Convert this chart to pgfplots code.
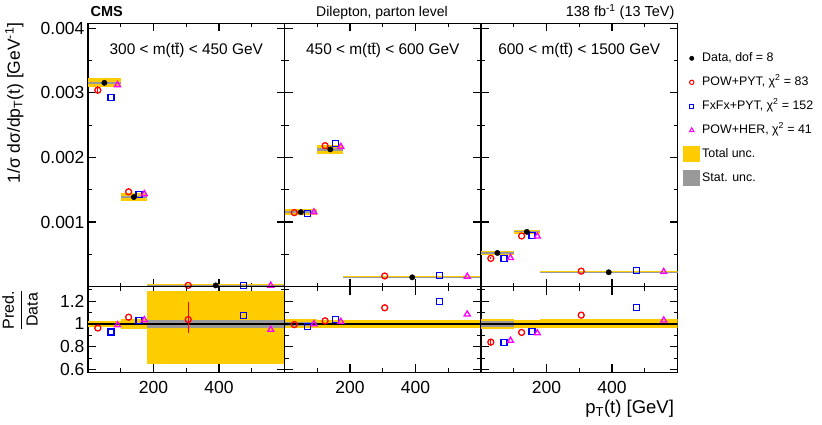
\documentclass[border=0pt]{standalone}
\usepackage{pgfplots}
\pgfplotsset{compat=1.18}
\usepackage{fontspec}
\setmainfont{Liberation Sans}
\definecolor{unctot}{RGB}{255,204,0}
\definecolor{uncstat}{RGB}{153,153,153}
\definecolor{pred1}{RGB}{255,0,0}
\definecolor{pred2}{RGB}{0,0,255}
\definecolor{pred3}{RGB}{255,0,255}
% band: x0 x1 ylo yhi colour
\newcommand{\band}[5]{\addplot[draw=none, fill=#5, forget plot] coordinates {(#1,#3) (#2,#3) (#2,#4) (#1,#4)};}
\tikzset{ptitle/.style={font=\fontsize{15.4}{18}\selectfont, anchor=base}}
\pgfplotsset{
  boxleg/.style={legend image code/.code={\fill[##1] (0pt,-8pt) rectangle (17pt,8pt);}},
  panel/.style={scale only axis, width=196.5pt, xmin=0, xmax=600,
    axis line style={line width=1.5pt},
    tick style={line width=1.1pt, black},
    major tick length=8pt, minor tick length=4pt,
    tick align=inside, xtick pos=both, ytick pos=both,
    xtick={200,400}, minor xtick={100,300,500},
    scaled y ticks=false, scaled x ticks=false,
    /pgf/number format/assume math mode=true,
    tick label style={font=\fontsize{17.5}{20}\selectfont},
    xticklabel style={anchor=base, yshift=-21pt}},
  mainp/.style={panel, height=263.4pt, ymin=0, ymax=0.004074,
    ytick={0.001,0.002,0.003,0.004}, minor ytick={0.0005,0.0015,0.0025,0.0035}},
  ratiop/.style={panel, height=85.6pt, ymin=0.575, ymax=1.327,
    ytick={0.6,0.8,1,1.2}, minor ytick={0.7,0.9,1.1,1.3}},
  dat/.style={only marks, mark=*, black, mark size=2.7pt},
  p1/.style={only marks, mark=o, pred1, mark size=3pt, line width=1.3pt,
    error bars/y dir=both, error bars/y explicit, error bars/error mark=none,
    error bars/error bar style={line width=1.3pt, pred1}},
  p2/.style={only marks, mark=square, pred2, mark size=3pt, line width=1.3pt},
  p3/.style={only marks, mark=triangle, pred3, mark size=3.4pt, line width=1.3pt},
  oneline/.style={black, line width=1.5pt, forget plot},
}
\begin{document}
\begin{tikzpicture}[x=1pt,y=1pt]
\useasboundingbox (0,0) rectangle (822,425);

% ---------------- left main ----------------
\begin{axis}[mainp, at={(88pt,138.3pt)}, anchor=south west,
  yticklabels={0.001,0.002,0.003,0.004}, xticklabels={},
  ylabel={1/σ dσ/dp\textsubscript{T}(t) [GeV\textsuperscript{-1}]},
  ylabel style={at={(axis description cs:-0.375,0.697)}, anchor=center,
    font=\fontsize{17.5}{20}\selectfont}]
\band{0}{100}{0.003081}{0.003225}{unctot}
\band{0}{100}{0.003133}{0.003173}{uncstat}
\band{100}{180}{0.001324}{0.001448}{unctot}
\band{100}{180}{0.001369}{0.001403}{uncstat}
\band{180}{600}{0.000006}{0.000034}{unctot}
\band{180}{600}{0.000017}{0.000023}{uncstat}
\addplot[p1, forget plot] coordinates {(30,0.003040) +- (0,0.00006) (124,0.001468) +- (0,0) (306,0.0000208) +- (0,0)};
\addplot[p2, forget plot] coordinates {(70,0.002929) (156,0.001430) (474,0.0000215)};
\addplot[p3, forget plot] coordinates {(90,0.003121) (172,0.001435) (558,0.000019)};
\addplot[dat, forget plot] coordinates {(50,0.003153) (140,0.001386) (390,0.00002)};
\node[ptitle] at (rel axis cs:0.5,0.8797) {300 < m(t\={t}) < 450 GeV};
\end{axis}

% ---------------- middle main ----------------
\begin{axis}[mainp, at={(284.5pt,138.3pt)}, anchor=south west,
  yticklabels={}, xticklabels={}]
\band{0}{100}{0.001107}{0.001199}{unctot}
\band{0}{100}{0.001136}{0.001170}{uncstat}
\band{100}{180}{0.002056}{0.002192}{unctot}
\band{100}{180}{0.002104}{0.002144}{uncstat}
\band{180}{600}{0.000131}{0.000159}{unctot}
\band{180}{600}{0.000142}{0.000148}{uncstat}
\addplot[p1, forget plot] coordinates {(30,0.001146) +- (0,0) (124,0.002181) +- (0,0) (306,0.0001656) +- (0,0)};
\addplot[p2, forget plot] coordinates {(70,0.001129) (156,0.002211) (474,0.000174)};
\addplot[p3, forget plot] coordinates {(90,0.001153) (172,0.002166) (558,0.000157)};
\addplot[dat, forget plot] coordinates {(50,0.001153) (140,0.002124) (390,0.000145)};
\node[ptitle] at (rel axis cs:0.5,0.8797) {450 < m(t\={t}) < 600 GeV};
\end{axis}

% ---------------- right main ----------------
\begin{axis}[mainp, at={(481pt,138.3pt)}, anchor=south west,
  yticklabels={}, xticklabels={},
  legend style={draw=none, fill=none, at={(1.028,0.902)}, anchor=north west,
    inner sep=0pt, row sep=6pt, legend cell align=left,
    font=\fontsize{12.4}{14}\selectfont,
    nodes={text height=10pt, text depth=4pt, inner sep=2pt}}]
\band{0}{100}{0.000497}{0.000547}{unctot}
\band{0}{100}{0.000509}{0.000535}{uncstat}
\band{100}{180}{0.000818}{0.000878}{unctot}
\band{100}{180}{0.0008395}{0.0008565}{uncstat}
\band{180}{600}{0.000209}{0.000237}{unctot}
\band{180}{600}{0.000220}{0.000226}{uncstat}
\addplot[p1, forget plot] coordinates {(30,0.000438) +- (0,0.000016) (124,0.000784) +- (0,0) (306,0.000240) +- (0,0)};
\addplot[p2, forget plot] coordinates {(70,0.000436) (156,0.000792) (474,0.000255)};
\addplot[p3, forget plot] coordinates {(90,0.000446) (172,0.000780) (558,0.000230)};
\addplot[dat, forget plot] coordinates {(50,0.000522) (140,0.000848) (390,0.000223)};
\node[ptitle] at (rel axis cs:0.5,0.8797) {600 < m(t\={t}) < 1500 GeV};
\addlegendimage{only marks, mark=*, black, mark size=2.2pt}
\addlegendentry{Data, dof = 8}
\addlegendimage{only marks, mark=o, pred1, mark size=2.2pt, line width=1pt}
\addlegendentry{POW+PYT, χ\textsuperscript{2} = 83}
\addlegendimage{only marks, mark=square, pred2, mark size=2.2pt, line width=1pt}
\addlegendentry{FxFx+PYT, χ\textsuperscript{2} = 152}
\addlegendimage{only marks, mark=triangle, pred3, mark size=2.6pt, line width=1pt}
\addlegendentry{POW+HER, χ\textsuperscript{2} = 41}
\addlegendimage{boxleg, fill=unctot, draw=none}
\addlegendentry{Total unc.}
\addlegendimage{boxleg, fill=uncstat, draw=none}
\addlegendentry{Stat. unc.}
\end{axis}

% ---------------- left ratio ----------------
\begin{axis}[ratiop, at={(88pt,52.7pt)}, anchor=south west,
  yticklabels={0.6,0.8,1,1.2}, xticklabels={200,400},
  ylabel={$\displaystyle\frac{\mbox{Pred.}}{\mbox{Data}}$},
  ylabel style={at={(axis description cs:-0.346,0.728)}, anchor=center,
    font=\fontsize{16}{18}\selectfont}]
\band{0}{100}{0.975}{1.025}{unctot}
\band{0}{100}{0.992}{1.008}{uncstat}
\band{100}{180}{0.955}{1.045}{unctot}
\band{100}{180}{0.988}{1.012}{uncstat}
\band{180}{600}{0.649}{1.288}{unctot}
\band{180}{600}{0.960}{1.038}{uncstat}
\addplot[oneline] coordinates {(0,1) (600,1)};
\addplot[p1, forget plot] coordinates {(30,0.964) +- (0,0) (124,1.059) +- (0,0) (306,1.038) += (0,0.155) -= (0,0.118)};
\addplot[p2, forget plot] coordinates {(70,0.929) (156,1.032) (474,1.074)};
\addplot[p3, forget plot] coordinates {(90,0.990) (172,1.035) (558,0.950)};
\end{axis}

% ---------------- middle ratio ----------------
\begin{axis}[ratiop, at={(284.5pt,52.7pt)}, anchor=south west,
  yticklabels={}, xticklabels={200,400}]
\band{0}{100}{0.960}{1.040}{unctot}
\band{0}{100}{0.985}{1.015}{uncstat}
\band{100}{180}{0.965}{1.035}{unctot}
\band{100}{180}{0.990}{1.010}{uncstat}
\band{180}{600}{0.965}{1.035}{unctot}
\band{180}{600}{0.990}{1.010}{uncstat}
\addplot[oneline] coordinates {(0,1) (600,1)};
\addplot[p1, forget plot] coordinates {(30,0.994) +- (0,0) (124,1.027) +- (0,0) (306,1.142) +- (0,0)};
\addplot[p2, forget plot] coordinates {(70,0.979) (156,1.041) (474,1.200)};
\addplot[p3, forget plot] coordinates {(90,1.000) (172,1.020) (558,1.085)};
\end{axis}

% ---------------- right ratio ----------------
\begin{axis}[ratiop, at={(481pt,52.7pt)}, anchor=south west,
  yticklabels={}, xticklabels={200,400},
  xlabel={p\textsubscript{T}(t) [GeV]},
  xlabel style={at={(axis description cs:1,-0.487)}, anchor=base east,
    font=\fontsize{18.5}{21}\selectfont}]
\band{0}{100}{0.952}{1.047}{unctot}
\band{0}{100}{0.975}{1.025}{uncstat}
\band{100}{180}{0.965}{1.035}{unctot}
\band{100}{180}{0.990}{1.010}{uncstat}
\band{180}{600}{0.960}{1.040}{unctot}
\band{180}{600}{0.988}{1.012}{uncstat}
\addplot[oneline] coordinates {(0,1) (600,1)};
\addplot[p1, forget plot] coordinates {(30,0.840) +- (0,0.03) (124,0.925) +- (0,0) (306,1.077) +- (0,0)};
\addplot[p2, forget plot] coordinates {(70,0.835) (156,0.934) (474,1.142)};
\addplot[p3, forget plot] coordinates {(90,0.854) (172,0.920) (558,1.032)};
\end{axis}

% header texts
\node[anchor=base west, font=\fontsize{14.5}{17}\selectfont\bfseries] at (87,408) {CMS};
\node[anchor=base, font=\fontsize{14}{17}\selectfont] at (382,408) {Dilepton, parton level};
\node[anchor=base east, font=\fontsize{14.5}{17}\selectfont] at (678,408) {138 fb\textsuperscript{-1} (13 TeV)};
\end{tikzpicture}
\end{document}
